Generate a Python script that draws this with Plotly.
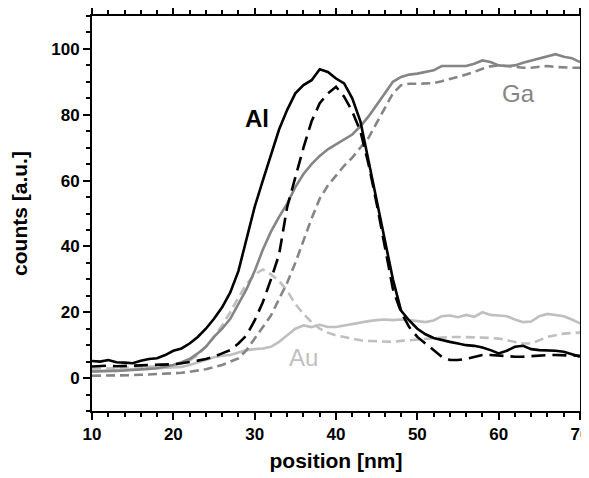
import plotly.graph_objects as go

x_nm = list(range(10, 71))

al_solid = [5.2, 5.0, 5.5, 4.8, 4.7, 4.5, 5.3, 5.8, 6.0, 7.0, 8.3, 9.0, 10.5, 12.5, 15.0, 18.0, 21.5, 26.0,
            32.5, 42.0, 52.0, 60.0, 68.0, 75.5, 81.5, 86.5, 89.0, 90.5, 93.8, 93.0, 91.0, 89.5, 85.0, 78.0,
            66.0, 54.0, 42.0, 30.0, 20.5, 17.5, 15.0, 13.3, 12.2, 11.5, 11.0, 10.5, 10.0, 9.8, 9.3, 8.5,
            7.5, 8.3, 9.5, 9.8, 8.8, 8.5, 8.5, 8.3, 8.0, 7.3, 6.5]
al_dashed = [3.5, 3.6, 3.8, 3.6, 3.7, 3.6, 3.7, 3.8, 3.9, 4.0, 4.2, 4.5, 4.8, 5.3, 5.8, 6.5, 7.5, 8.5,
             10.5, 13.0, 17.5, 23.0, 30.0, 37.5, 52.0, 61.0, 70.0, 78.0, 83.5, 86.5, 88.5, 85.5, 81.0, 75.0,
             65.0, 53.0, 40.0, 27.0, 20.0, 15.5, 12.5, 10.5, 8.5, 6.5, 5.5, 5.5, 5.8, 6.5, 7.0, 7.0,
             6.8, 6.5, 6.5, 6.5, 6.7, 6.8, 7.0, 7.0, 7.0, 7.0, 6.8]
ga_solid = [2.0, 2.0, 2.2, 2.2, 2.3, 2.4, 2.6, 2.8, 3.0, 3.4, 4.0, 4.8, 5.8, 7.5, 9.5, 12.5, 15.0, 18.0,
            22.5, 27.0, 32.5, 39.0, 44.5, 49.0, 53.0, 58.0, 62.0, 65.0, 67.5, 69.5, 71.0, 72.5, 74.0, 76.5,
            79.5, 83.0, 86.5, 90.0, 91.5, 92.2, 92.5, 93.0, 93.5, 94.8, 94.8, 94.8, 94.8, 95.5, 96.5, 96.0,
            95.0, 94.8, 95.0, 95.8, 96.5, 97.0, 97.8, 98.4, 97.6, 97.2, 96.0]
ga_dashed = [0.7, 0.7, 0.8, 0.8, 0.9, 0.9, 1.0, 1.1, 1.2, 1.3, 1.5, 1.6, 1.9, 2.2, 2.7, 3.3, 4.0, 5.0,
             6.0, 8.5, 12.0, 15.5, 19.0, 24.0, 29.0, 35.0, 42.0, 48.5, 54.5, 58.5, 61.5, 64.5, 67.0, 70.0,
             73.0, 77.5, 82.0, 86.5, 89.0, 89.4, 89.4, 89.4, 89.6, 90.2, 90.8, 91.5, 92.2, 93.0, 94.0, 94.7,
             95.0, 94.8, 94.5, 94.3, 94.3, 94.6, 94.8, 94.5, 94.3, 94.3, 94.3]
au_solid = [2.0, 2.2, 2.3, 2.5, 2.5, 2.7, 2.8, 3.0, 3.0, 3.2, 3.3, 3.4, 4.0, 4.8, 5.5, 6.3, 6.8, 7.0,
            7.8, 8.5, 8.8, 9.0, 9.5, 11.0, 13.0, 15.0, 16.0, 15.5, 16.2, 15.5, 15.5, 16.0, 16.5, 16.8,
            17.3, 17.6, 17.8, 17.6, 17.8, 17.6, 17.2, 17.0, 17.5, 18.8, 19.0, 18.5, 19.2, 18.6, 20.0, 19.2,
            19.0, 18.8, 17.8, 17.0, 17.2, 18.8, 19.5, 19.2, 18.8, 17.8, 16.6]
au_dashed = [2.8, 2.8, 3.0, 3.0, 3.1, 3.2, 3.3, 3.4, 3.5, 3.7, 4.0, 4.5, 5.3, 7.0, 9.5, 12.5, 16.0, 20.0,
             24.5, 28.5, 31.5, 33.0, 31.5, 29.5, 26.5, 22.5, 19.5, 17.0, 15.0, 13.8, 13.0, 12.5, 12.0, 11.5,
             11.3, 11.2, 11.2, 11.0, 11.3, 11.5, 11.8, 12.0, 12.3, 12.5, 12.5, 12.5, 12.5, 12.5, 12.3, 12.2,
             12.0, 11.5, 11.0, 10.5, 10.5, 11.5, 12.5, 13.0, 13.5, 13.7, 13.8]

labels = ["Al", "Ga", "Au"]
label_x = [30.3, 62.4, 36.0]
label_y = [79.0, 86.4, 6.4]

BLACK = "#000000"
GA_C = "#858585"
AU_C = "#bfbfbf"
FONT = "Liberation Sans, Arial"

fig = go.Figure()
series = [
    (au_solid, AU_C, "solid"),
    (au_dashed, AU_C, "9px,5px"),
    (ga_dashed, GA_C, "9px,5px"),
    (ga_solid, GA_C, "solid"),
    (al_dashed, BLACK, "14px,7px"),
    (al_solid, BLACK, "solid"),
]
for ys, col, dash in series:
    fig.add_trace(go.Scatter(x=x_nm, y=ys, mode="lines",
                             line=dict(color=col, width=2.6, dash=dash),
                             showlegend=False, hoverinfo="skip"))

label_colors = [BLACK, GA_C, AU_C]
label_weights = ["bold", "normal", "normal"]
for t, lx, ly, c, w in zip(labels, label_x, label_y, label_colors, label_weights):
    fig.add_annotation(x=lx, y=ly, text=t, showarrow=False,
                       font=dict(family=FONT, size=24, color=c, weight=w))

axis_common = dict(showline=True, linecolor="black", linewidth=2, mirror="ticks",
                   ticks="outside", ticklen=7, tickwidth=1.6, tickcolor="black",
                   showgrid=False, zeroline=False, automargin=False,
                   ticklabeloverflow="allow",
                   tickfont=dict(family=FONT, size=17, color="black", weight="bold"))

fig.update_xaxes(range=[10, 70], tick0=10, dtick=10,
                 minor=dict(dtick=2, ticklen=4, tickwidth=1.6, tickcolor="black", ticks="outside"),
                 title=dict(text="position [nm]", standoff=10,
                            font=dict(family=FONT, size=21, color="black", weight="bold")),
                 **axis_common)
fig.update_yaxes(range=[-10, 110], tick0=0, dtick=20,
                 minor=dict(dtick=5, ticklen=4, tickwidth=1.6, tickcolor="black", ticks="outside"),
                 title=dict(text="counts [a.u.]", standoff=21,
                            font=dict(family=FONT, size=21, color="black", weight="bold")),
                 **axis_common)

# page body has an 8px default margin; size the figure so the plot area lands where the reference has it
fig.update_layout(width=581, height=470, plot_bgcolor="white", paper_bgcolor="white",
                  margin=dict(l=84, r=9, t=8, b=67))

fig.write_html("out.html")
